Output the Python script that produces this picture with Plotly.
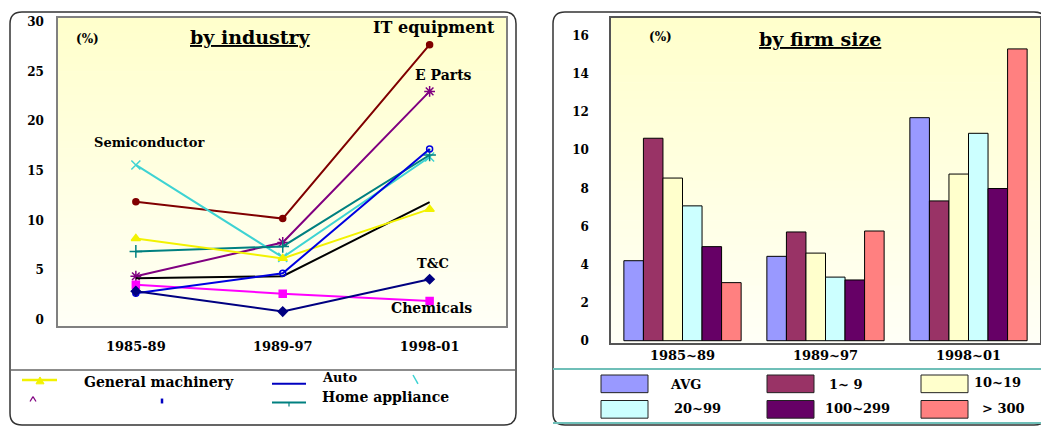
import plotly.graph_objects as go

# ---------------- data ----------------
periods_ind = ["1985-89", "1989-97", "1998-01"]
it_equipment = [11.9, 10.2, 27.7]
e_parts = [4.4, 7.8, 23.0]
semiconductor = [15.6, 6.3, 16.4]
home_appliance = [6.9, 7.4, 16.6]
auto = [2.7, 4.7, 17.2]
others = [4.2, 4.4, 11.85]
general_machinery = [8.2, 6.2, 11.15]
chemicals = [3.55, 2.65, 1.9]
t_and_c = [2.9, 0.85, 4.1]

periods_size = ["1985~89", "1989~97", "1998~01"]
size_labels = ["AVG", "1~ 9", "10~19", "20~99", "100~299", "> 300"]
size_avg = [4.2, 4.43, 11.71]
size_1_9 = [10.63, 5.71, 7.34]
size_10_19 = [8.54, 4.6, 8.75]
size_20_99 = [7.08, 3.34, 10.89]
size_100_299 = [4.94, 3.19, 7.99]
size_300 = [3.05, 5.76, 15.32]

# page body has an 8px margin: lay out in page pixels, shifted by OFF
OFF = 8
W, H = 1049 - OFF, 432 - OFF
FONT = "DejaVu Serif"


def px(x):
    return (x - OFF) / W


def py(y):
    return 1 - (y - OFF) / H


fig = go.Figure()

# ---------------- left: line chart ----------------
line_series = [
    ("IT equipment", it_equipment, "#800000", "circle", 6),
    ("E Parts", e_parts, "#800080", "asterisk-open", 9),
    ("Semiconductor", semiconductor, "#3ED3D3", "x-thin-open", 9),
    ("Home appliance", home_appliance, "#008080", "cross-thin-open", 9),
    ("Others", others, "#000000", None, 0),
    ("General machinery", general_machinery, "#F2F200", "triangle-up", 8),
    ("Chemicals", chemicals, "#FF00FF", "square", 7),
    ("Auto", auto, "#0000E0", "circle-open", 6),
    ("T&C", t_and_c, "#000080", "diamond", 7),
]
for name, vals, col, sym, size in line_series:
    kw = dict(mode="lines")
    if sym:
        kw = dict(mode="lines+markers",
                  marker=dict(symbol=sym, size=size, color=col,
                              line=dict(color=col, width=1.5)))
    fig.add_trace(go.Scatter(x=periods_ind, y=vals, name=name,
                             line=dict(color=col, width=2),
                             xaxis="x", yaxis="y", **kw))

# ---------------- right: grouped bars ----------------
bar_colors = ["#9999FF", "#993366", "#FFFFCC", "#CCFFFF", "#660066", "#FF8080"]
bar_values = [size_avg, size_1_9, size_10_19, size_20_99, size_100_299, size_300]
for lab, vals, col in zip(size_labels, bar_values, bar_colors):
    fig.add_trace(go.Bar(x=periods_size, y=vals, name=lab,
                         marker=dict(color=col, line=dict(color="#000000", width=1)),
                         xaxis="x2", yaxis="y2"))

shapes = []


def gradient(xr, yr, n=40):
    top = (255, 255, 204)
    bot = (255, 255, 246)
    for i in range(n):
        t = i / (n - 1)
        c = tuple(round(bot[k] + (top[k] - bot[k]) * t) for k in range(3))
        shapes.append(dict(type="rect", xref=xr + " domain", yref=yr + " domain",
                           x0=0, x1=1, y0=i / n, y1=(i + 1) / n + 0.002,
                           fillcolor="rgb(%d,%d,%d)" % c, line=dict(width=0),
                           layer="below"))


gradient("x", "y")
gradient("x2", "y2")


def rounded(x0, y0, x1, y1, r, color, width):
    rx, ry = r / W, r / H
    X0, X1 = px(x0), px(x1)
    Y0, Y1 = py(y0), py(y1)  # Y0 top, Y1 bottom
    p = (f"M {X0+rx},{Y0} L {X1-rx},{Y0} Q {X1},{Y0} {X1},{Y0-ry} "
         f"L {X1},{Y1+ry} Q {X1},{Y1} {X1-rx},{Y1} L {X0+rx},{Y1} "
         f"Q {X0},{Y1} {X0},{Y1+ry} L {X0},{Y0-ry} Q {X0},{Y0} {X0+rx},{Y0} Z")
    shapes.append(dict(type="path", xref="paper", yref="paper", path=p,
                       line=dict(color=color, width=width)))


def seg(x0, y0, x1, y1, color, width=1.5):
    shapes.append(dict(type="line", xref="paper", yref="paper",
                       x0=px(x0), x1=px(x1), y0=py(y0), y1=py(y1),
                       line=dict(color=color, width=width)))


# frames
rounded(10, 9, 516, 430, 12, "#333333", 1.5)
rounded(553, 9, 1046, 430, 12, "#333333", 1.5)
seg(10, 374, 516, 374, "#666666", 1.5)
seg(553, 373, 1046, 373, "#6FBFB8", 2)
seg(553, 428, 1046, 428, "#6FBFB8", 2)

# ---------------- left legend keys ----------------
seg(22, 384, 57, 384, "#F2F200", 2.5)
shapes.append(dict(type="path", xref="paper", yref="paper",
                   path=f"M {px(36)},{py(388)} L {px(44)},{py(388)} L {px(40)},{py(381)} Z",
                   fillcolor="#F2F200", line=dict(color="#F2F200", width=1)))
seg(272, 388, 306, 388, "#0000C0", 2)
seg(413, 379, 418, 388, "#3ED3D3", 1.5)
seg(30, 406, 33, 401, "#800080", 1.2)
seg(33, 401, 36, 406, "#800080", 1.2)
seg(162, 403, 162, 408, "#0000C0", 2.5)
seg(272, 407, 306, 407, "#008080", 2)
seg(289, 407, 289, 411, "#008080", 1.2)

# ---------------- right legend keys ----------------
sw_x = [601, 767, 921, 601, 767, 921]
sw_y = [379, 379, 379, 405, 405, 405]
for xx, yy, col in zip(sw_x, sw_y, bar_colors):
    shapes.append(dict(type="rect", xref="paper", yref="paper",
                       x0=px(xx), x1=px(xx + 47), y0=py(yy), y1=py(yy + 18),
                       fillcolor=col, line=dict(color="#222222", width=1)))

annotations = []


def text(t, x, y, size, xanchor="center", color="#000000"):
    annotations.append(dict(text=t, x=px(x), y=py(y), xref="paper", yref="paper",
                            xanchor=xanchor, yanchor="middle", showarrow=False,
                            font=dict(family=FONT, size=size, color=color, weight="bold")))


# left chart texts
text("(%)", 87, 37, 12)
text("<u>by industry</u>", 250, 35, 19)
text("IT equipment", 434, 25, 16)
text("E Parts", 443, 73, 14)
text("Semiconductor", 149, 142, 13)
text("T&C", 433, 265, 13)
text("Chemicals", 431, 311, 14)

text("General machinery", 82, 386, 14, "left")
text("Auto", 320, 382, 13, "left")
text("Home appliance", 320, 401, 14, "left")

# right chart texts
text("(%)", 660, 35, 12)
text("<u>by firm size</u>", 820, 37, 19)
leg_tx = [668, 827, 972, 672, 823, 980]
leg_ty = [389, 389, 387, 413, 413, 413]
for lab, xx, yy in zip(size_labels, leg_tx, leg_ty):
    text(lab, xx, yy, 13, "left")

tickfont = dict(family=FONT, size=12, color="#000000", weight="bold")
xtickfont = dict(family=FONT, size=13, color="#000000", weight="bold")

fig.update_layout(
    width=W, height=H,
    margin=dict(l=0, r=0, t=0, b=0),
    paper_bgcolor="#FFFFFF", plot_bgcolor="#FFFFFF",
    showlegend=False,
    barmode="group", bargap=0.18, bargroupgap=0,
    shapes=shapes, annotations=annotations,
    xaxis=dict(domain=[px(58), px(506)], anchor="y", type="category",
               range=[-0.53, 2.52], showgrid=False, zeroline=False,
               showline=True, mirror=True, linecolor="#808080", linewidth=1.5,
               ticks="", tickfont=xtickfont, ticklabelstandoff=8),
    yaxis=dict(domain=[py(329), py(15)], anchor="x", range=[-0.6, 30.4],
               dtick=5, showgrid=False, zeroline=False,
               showline=True, mirror=True, linecolor="#808080", linewidth=1.5,
               ticks="", tickfont=tickfont, ticklabelstandoff=10),
    xaxis2=dict(domain=[px(611), px(1040)], anchor="y2", type="category",
                showgrid=False, zeroline=False,
                showline=True, mirror=True, linecolor="#555555", linewidth=1.5,
                ticks="", tickfont=xtickfont, ticklabelstandoff=0),
    yaxis2=dict(domain=[py(346), py(15)], anchor="x2", range=[-0.1, 16.95],
                dtick=2, showgrid=False, zeroline=False,
                showline=True, mirror=True, linecolor="#555555", linewidth=1.5,
                ticks="", tickfont=tickfont, ticklabelstandoff=18),
)

fig.write_html("out.html")
